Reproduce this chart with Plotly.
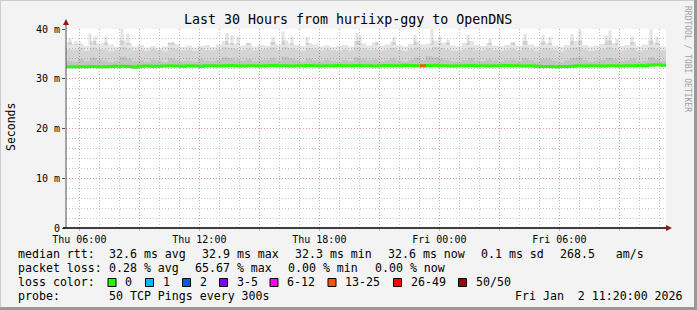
import plotly.graph_objects as go
from datetime import datetime, timedelta

# ---------------- data ----------------
START = datetime(2026, 1, 1, 5, 20)
END = datetime(2026, 1, 2, 11, 20)
STEP_MIN = 18  # 100 columns of 18 minutes over 30 hours

smoke_max = [37.4, 37.0, 36.9, 36.6, 37.6, 37.1, 37.3, 36.9, 36.4, 37.7,
             37.2, 36.5, 36.8, 36.3, 36.6, 36.2, 36.5, 37.3, 37.0, 36.4,
             36.7, 36.3, 36.6, 36.8, 36.4, 36.9, 37.6, 37.2, 37.1, 36.7,
             37.2, 36.5, 36.8, 36.6, 37.4, 36.9, 37.7, 37.1, 36.8, 36.6,
             37.2, 36.9, 36.5, 36.7, 36.4, 36.6, 36.8, 36.5, 37.6, 37.1,
             36.7, 37.3, 36.6, 36.9, 37.4, 36.7, 36.5, 37.0, 37.5, 36.9,
             37.1, 37.7, 37.2, 37.3, 36.7, 36.5, 37.2, 37.6, 36.8, 36.6,
             37.2, 36.7, 36.5, 36.8, 37.3, 36.6, 37.6, 36.9, 36.5, 37.5,
             37.2, 36.7, 36.4, 36.8, 37.6, 37.7, 36.8, 36.5, 36.7, 37.0,
             37.7, 37.2, 36.6, 36.8, 37.4, 36.5, 36.9, 37.7, 37.2, 36.5]

smoke_mid = [36.0, 35.8, 36.2, 35.6, 36.3, 36.0, 35.9, 35.5, 35.8, 36.4,
             36.1, 35.7, 35.9, 35.6, 36.0, 35.8, 35.5, 36.2, 36.0, 35.7,
             35.9, 35.6, 36.1, 35.8, 35.7, 36.0, 36.4, 36.2, 36.0, 35.8,
             36.1, 35.7, 35.9, 36.0, 36.3, 35.8, 36.4, 36.1, 35.9, 35.6,
             36.2, 35.9, 35.7, 36.0, 35.8, 35.6, 35.9, 35.7, 36.3, 36.1,
             35.8, 36.0, 35.7, 35.9, 36.2, 35.8, 35.6, 36.0, 36.3, 35.9,
             36.0, 36.4, 36.2, 36.0, 35.7, 35.6, 35.9, 36.3, 35.8, 35.7,
             36.1, 35.8, 35.6, 35.9, 36.0, 35.7, 36.3, 35.9, 35.6, 36.2,
             36.1, 35.8, 35.5, 35.9, 36.3, 36.4, 35.9, 35.6, 35.8, 36.0,
             36.4, 36.1, 35.7, 35.9, 36.2, 35.6, 35.8, 36.4, 36.1, 35.7]

smoke_core = [33.6, 33.4, 33.9, 33.5, 34.2, 33.8, 33.6, 33.3, 33.5, 34.4,
              34.0, 33.5, 33.7, 33.4, 33.8, 33.6, 33.3, 34.0, 33.7, 33.5,
              33.6, 33.4, 33.9, 33.6, 33.5, 33.8, 34.3, 34.1, 33.8, 33.6,
              33.9, 33.5, 33.7, 33.8, 34.1, 33.6, 34.4, 34.0, 33.7, 33.4,
              34.0, 33.7, 33.5, 33.8, 33.6, 33.4, 33.7, 33.5, 34.2, 33.9,
              33.6, 33.8, 33.5, 33.7, 34.0, 33.6, 33.4, 33.8, 34.2, 33.7,
              34.5, 34.3, 34.0, 33.8, 33.5, 33.4, 33.7, 34.1, 33.6, 33.5,
              33.9, 33.6, 33.4, 33.7, 33.8, 33.5, 34.1, 33.7, 33.4, 34.0,
              33.9, 33.6, 33.3, 33.7, 34.1, 34.3, 33.7, 33.4, 33.6, 33.8,
              34.2, 33.9, 33.5, 33.7, 34.0, 33.4, 33.6, 34.3, 33.9, 33.5]

smoke_min = [32.1, 32.1, 32.2, 32.1, 32.2, 32.1, 32.1, 32.2, 32.2, 32.2,
             32.2, 32.0, 32.2, 32.3, 32.2, 32.2, 32.3, 32.3, 32.3, 32.2,
             32.3, 32.3, 32.2, 32.3, 32.3, 32.3, 32.3, 32.4, 32.3, 32.3,
             32.3, 32.3, 32.3, 32.3, 32.4, 32.3, 32.3, 32.3, 32.3, 32.3,
             32.4, 32.3, 32.3, 32.3, 32.3, 32.4, 32.3, 32.3, 32.4, 32.3,
             32.3, 32.3, 32.3, 32.4, 32.3, 32.3, 32.4, 32.4, 32.3, 32.3,
             32.4, 32.4, 32.3, 32.3, 32.3, 32.3, 32.3, 32.4, 32.3, 32.3,
             32.3, 32.3, 32.3, 32.4, 32.3, 32.3, 32.3, 32.3, 32.2, 32.2,
             32.2, 32.1, 32.2, 32.2, 32.2, 32.3, 32.3, 32.3, 32.3, 32.3,
             32.3, 32.3, 32.3, 32.3, 32.3, 32.4, 32.3, 32.4, 32.5, 32.4]

median = [32.40, 32.40, 32.40, 32.40, 32.45, 32.40, 32.40, 32.45, 32.50, 32.50,
          32.45, 32.35, 32.50, 32.55, 32.50, 32.50, 32.55, 32.60, 32.55, 32.50,
          32.60, 32.55, 32.50, 32.60, 32.60, 32.55, 32.60, 32.65, 32.60, 32.55,
          32.60, 32.60, 32.55, 32.60, 32.65, 32.60, 32.60, 32.55, 32.60, 32.60,
          32.65, 32.60, 32.55, 32.60, 32.60, 32.65, 32.60, 32.60, 32.65, 32.60,
          32.60, 32.55, 32.60, 32.65, 32.60, 32.60, 32.70, 32.65, 32.60, 32.60,
          32.65, 32.70, 32.60, 32.60, 32.55, 32.60, 32.60, 32.65, 32.60, 32.60,
          32.55, 32.60, 32.60, 32.65, 32.60, 32.60, 32.55, 32.60, 32.50, 32.45,
          32.45, 32.40, 32.45, 32.45, 32.50, 32.60, 32.55, 32.60, 32.60, 32.55,
          32.60, 32.60, 32.55, 32.60, 32.60, 32.65, 32.60, 32.75, 32.80, 32.70]

# packet loss (% of 50 pings) per column
loss_pct = [0, 0, 0, 0, 0, 0, 0, 0, 0, 0, 0, 0, 0, 0, 0, 0, 0, 0, 0, 0,
            0, 0, 0, 0, 0, 0, 0, 0, 0, 0, 0, 0, 0, 0, 0, 0, 0, 0, 0, 0,
            0, 0, 0, 0, 0, 0, 0, 0, 0, 0, 0, 0, 0, 0, 0, 0, 0, 0, 0, 30,
            0, 0, 0, 0, 0, 0, 0, 0, 0, 0, 0, 0, 0, 0, 0, 0, 0, 0, 0, 0,
            0, 0, 0, 0, 0, 0, 0, 0, 0, 0, 0, 0, 0, 0, 0, 0, 0, 0, 0, 0]

# isolated slow pings (minutes after start, max rtt in ms)
spike_min = [12, 30, 42, 72, 87, 120, 168, 186, 309, 321, 417, 483, 498, 516,
             546, 621, 651, 678, 723, 873, 882, 933, 984, 1047, 1098, 1122,
             1146, 1206, 1272, 1341, 1377, 1431, 1452, 1518, 1542, 1620, 1632,
             1653, 1698, 1755, 1773]
spike_ms = [38.1, 37.6, 37.3, 39.1, 38.5, 38.5, 40.0, 39.0, 37.2, 37.4, 36.8,
            39.2, 38.8, 38.5, 37.2, 38.4, 39.5, 38.5, 38.4, 39.2, 38.6, 37.5,
            38.4, 38.8, 40.0, 38.5, 37.9, 38.9, 38.0, 37.4, 39.0, 38.8, 38.5,
            39.0, 39.8, 38.6, 39.7, 38.0, 38.5, 40.0, 38.5]

loss_labels = ["0", "1", "2", "3-5", "6-12", "13-25", "26-49", "50/50"]
loss_colors = ["#26ff00", "#00b8ff", "#0059ff", "#7e00ff", "#ff00ff",
               "#ff5500", "#ff0000", "#a10000"]
loss_upper = [0, 2, 4, 10, 24, 50, 98, 100]  # upper bound (%) of each class

x_tick_vals = ["2026-01-01 06:00", "2026-01-01 09:00", "2026-01-01 12:00",
               "2026-01-01 15:00", "2026-01-01 18:00", "2026-01-01 21:00",
               "2026-01-02 00:00", "2026-01-02 03:00", "2026-01-02 06:00",
               "2026-01-02 09:00"]
x_tick_text = ["Thu 06:00", "", "Thu 12:00", "", "Thu 18:00", "",
               "Fri 00:00", "", "Fri 06:00", ""]
y_tick_vals = [0, 10, 20, 30, 40]
y_tick_text = ["0", "10 m", "20 m", "30 m", "40 m"]

stats_line1 = [("median rtt:", 16), ("32.6 ms avg", 107.3), ("32.9 ms max", 200),
               ("32.3 ms min", 293.3), ("32.6 ms now", 386), ("0.1 ms sd", 479.3),
               ("268.5   am/s", 558.3)]
stats_line2 = [("packet loss:", 16), ("0.28 % avg", 107.3), ("65.67 % max", 192.7),
               ("0.00 % min", 286), ("0.00 % now", 372.7)]
probe_text = "50 TCP Pings every 300s"
date_text = "Fri Jan  2 11:20:00 2026"
title_text = "Last 30 Hours from huriixp-ggy to OpenDNS"

# ---------------- geometry helpers ----------------
W, H = 697, 310
L, R, T, B = 66, 666, 29, 228
MONO = "DejaVu Sans Mono"


def px(x):
    return (x - L) / (R - L)


def py(y):
    return (B - y) / (B - T)


times = [START + timedelta(minutes=STEP_MIN * i) for i in range(len(median) + 1)]


def ext(a):
    return list(a) + [a[-1]]


fig = go.Figure()

SMOKE = ["rgba(0,0,0,0.10)", "rgba(0,0,0,0.07)", "rgba(0,0,0,0.08)"]


def band(lo, hi, color):
    fig.add_trace(go.Scatter(x=times, y=ext(lo), mode="lines", line=dict(width=0, shape="hv"),
                             hoverinfo="skip", showlegend=False))
    fig.add_trace(go.Scatter(x=times, y=ext(hi), mode="lines", line=dict(width=0, shape="hv"),
                             fill="tonexty", fillcolor=color, hoverinfo="skip", showlegend=False))


band(smoke_min, smoke_max, SMOKE[0])
band(smoke_min, smoke_mid, SMOKE[1])
band(smoke_min, smoke_core, SMOKE[2])

# spikes of the slowest pings (closed rectangles, one per spike)
SPIKE_BASE = 36.8
sx, sy = [], []
for m, v in zip(spike_min, spike_ms):
    if v <= SPIKE_BASE:
        continue
    t0 = START + timedelta(minutes=m - 5)
    t1 = START + timedelta(minutes=m + 5)
    sx += [t0, t0, t1, t1, t0, None]
    sy += [SPIKE_BASE, v, v, SPIKE_BASE, SPIKE_BASE, None]
fig.add_trace(go.Scatter(x=sx, y=sy, mode="lines", line=dict(width=0), fill="toself",
                         fillcolor="rgba(0,0,0,0.10)", hoverinfo="skip", showlegend=False))

# median line coloured by loss
fig.add_trace(go.Scatter(x=times, y=ext(median), mode="lines",
                         line=dict(color=loss_colors[0], width=3, shape="hv"),
                         hoverinfo="skip", showlegend=False))
for i, lp in enumerate(loss_pct):
    if lp > 0:
        ci = next(k for k, u in enumerate(loss_upper) if lp <= u)
        fig.add_trace(go.Scatter(x=[times[i], times[i + 1]], y=[median[i], median[i]],
                                 mode="lines", line=dict(color=loss_colors[ci], width=3),
                                 hoverinfo="skip", showlegend=False))

shapes = []
ann = []

# axis lines and arrows
shapes.append(dict(type="line", xref="paper", yref="paper", x0=px(L), x1=px(L), y0=py(B), y1=py(21),
                   line=dict(color="#555555", width=1)))
shapes.append(dict(type="line", xref="paper", yref="paper", x0=px(L - 3), x1=px(668), y0=py(B), y1=py(B),
                   line=dict(color="#000000", width=1.5)))
shapes.append(dict(type="path", xref="paper", yref="paper",
                   path=f"M {px(L-3)},{py(25)} L {px(L+3)},{py(25)} L {px(L)},{py(19)} Z",
                   fillcolor="#8b1a1a", line=dict(width=0)))
shapes.append(dict(type="path", xref="paper", yref="paper",
                   path=f"M {px(666)},{py(B-3)} L {px(666)},{py(B+3)} L {px(672)},{py(B)} Z",
                   fillcolor="#8b1a1a", line=dict(width=0)))

# outer frame
shapes.append(dict(type="line", xref="paper", yref="paper", x0=px(0), x1=px(W), y0=py(0.5), y1=py(0.5),
                   line=dict(color="#cbcbcb", width=1)))
shapes.append(dict(type="line", xref="paper", yref="paper", x0=px(0.5), x1=px(0.5), y0=py(0), y1=py(H),
                   line=dict(color="#cbcbcb", width=1)))
shapes.append(dict(type="rect", xref="paper", yref="paper", x0=px(694), x1=px(W), y0=py(0), y1=py(H),
                   fillcolor="#999999", line=dict(width=0)))
shapes.append(dict(type="rect", xref="paper", yref="paper", x0=px(0), x1=px(W), y0=py(307), y1=py(H),
                   fillcolor="#999999", line=dict(width=0)))

# title, axis title, watermark
ann.append(dict(text=title_text, x=px(348), y=py(19), xref="paper", yref="paper", showarrow=False,
                xanchor="center", yanchor="middle", font=dict(family=MONO, size=13.3, color="#000000")))
ann.append(dict(text="Seconds", x=px(11), y=py(127), xref="paper", yref="paper", showarrow=False,
                textangle=-90, xanchor="center", yanchor="middle",
                font=dict(family=MONO, size=11.5, color="#000000")))
ann.append(dict(text="RRDTOOL / TOBI OETIKER", x=px(688), y=py(59), xref="paper", yref="paper",
                showarrow=False, textangle=90, xanchor="center", yanchor="middle",
                font=dict(family=MONO, size=8, color="#a0a0a0")))

FS = 11.6


def text_at(t, x, y):
    ann.append(dict(text=t.replace(" ", "&nbsp;"), x=px(x), y=py(y), xref="paper", yref="paper",
                    showarrow=False, xanchor="left", yanchor="middle",
                    font=dict(family=MONO, size=FS, color="#000000")))


for t, x in stats_line1:
    text_at(t, x, 254)
for t, x in stats_line2:
    text_at(t, x, 268)
text_at("loss color:", 16, 282)
box_x = [108, 145.5, 182.5, 219.5, 270, 328, 393.5, 458.5]
for lab, col, bx in zip(loss_labels, loss_colors, box_x):
    shapes.append(dict(type="rect", xref="paper", yref="paper", x0=px(bx), x1=px(bx + 8),
                       y0=py(286.5), y1=py(278.5), fillcolor=col, line=dict(color="#000000", width=1)))
    text_at(lab, bx + 15.3, 282)
text_at("probe:", 16, 296)
text_at(probe_text, 107.3, 296)
text_at(date_text, 513.3, 296)

DOT = "1px,2px"
fig.update_layout(
    width=W, height=H,
    margin=dict(l=L, r=W - R, t=T, b=H - B, pad=0),
    paper_bgcolor="#f3f3f3", plot_bgcolor="#ffffff",
    showlegend=False,
    shapes=shapes, annotations=ann,
    xaxis=dict(type="date", range=[START, END], tickvals=x_tick_vals, ticktext=x_tick_text,
               showgrid=True, gridcolor="#ec9a9a", griddash=DOT, gridwidth=1,
               ticks="outside", ticklen=2, tickcolor="#eba0a0",
               tickfont=dict(family=MONO, size=10, color="#000000"),
               minor=dict(dtick=3600000, tick0="2026-01-01 00:00", showgrid=True,
                          gridcolor="#c8c8c8", griddash=DOT, gridwidth=1, ticks=""),
               showline=False, zeroline=False, fixedrange=True),
    yaxis=dict(range=[0, 40], tickvals=y_tick_vals, ticktext=y_tick_text,
               showgrid=True, gridcolor="#ec9a9a", griddash=DOT, gridwidth=1,
               ticks="outside", ticklen=3, tickcolor="#555555",
               tickfont=dict(family=MONO, size=10, color="#000000"),
               minor=dict(dtick=2, showgrid=True, gridcolor="#c8c8c8", griddash=DOT,
                          gridwidth=1, ticks=""),
               showline=False, zeroline=False, fixedrange=True),
)

fig.write_html("out.html")
